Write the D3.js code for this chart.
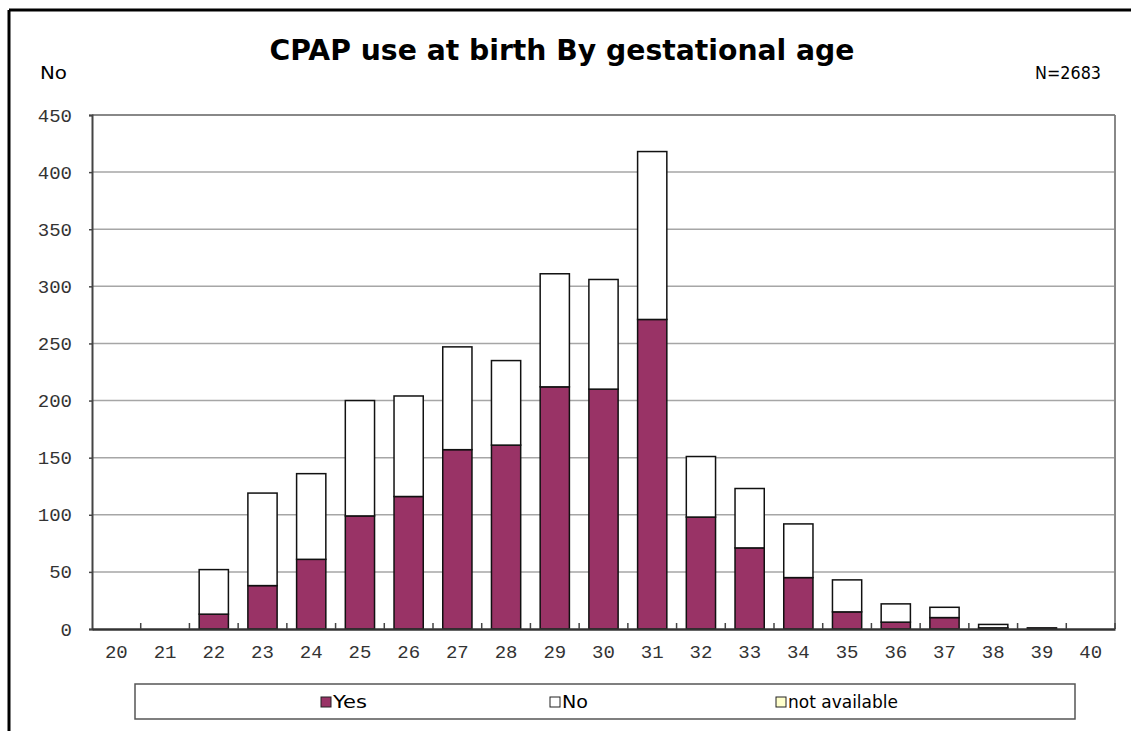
<!DOCTYPE html>
<html><head><meta charset="utf-8">
<script src="https://cdn.jsdelivr.net/npm/d3@7"></script>
<style>body{margin:0;background:#fff}svg{display:block}</style>
</head><body>
<svg id="c" width="1131" height="731"></svg>
<script>
const categories = ["20","21","22","23","24","25","26","27","28","29","30","31","32","33","34","35","36","37","38","39","40"];
const yesValues  = [0,0,13,38,61,99,116,157,161,212,210,271,98,71,45,15,6,10,1,1,0];
const noValues   = [0,0,39,81,75,101,88,90,74,99,96,147,53,52,47,28,16,9,3,0,0];
const naValues   = [0,0,0,0,0,0,0,0,0,0,0,0,0,0,0,0,0,0,0,0,0];
const yTicks = [0,50,100,150,200,250,300,350,400,450];
const seriesNames = ["Yes","No","not available"];
const seriesColors = ["#993366","#ffffff","#ffffcc"];

const svg = d3.select("#c");
const L = 92, R = 1115, T = 115, B = 629;

// outer frame
svg.append("line").attr("x1",9).attr("x2",1131).attr("y1",10).attr("y2",10).attr("stroke","#000").attr("stroke-width",3);
svg.append("line").attr("x1",9).attr("x2",9).attr("y1",10).attr("y2",731).attr("stroke","#000").attr("stroke-width",3);

const x = d3.scaleBand().domain(categories).range([L,R]).paddingInner(0.4).paddingOuter(0.2);
const xb = d3.scaleBand().domain(categories).range([L,R]);
const y = d3.scaleLinear().domain([0,450]).range([B,T]);

// gridlines
svg.append("g").selectAll("line").data(yTicks.filter(d=>d>0)).join("line")
  .attr("x1",L).attr("x2",R).attr("y1",d=>y(d)).attr("y2",d=>y(d))
  .attr("stroke","#a6a6a6").attr("stroke-width",1.5);
// right border
svg.append("line").attr("x1",R).attr("x2",R).attr("y1",T).attr("y2",B).attr("stroke","#888").attr("stroke-width",2);
svg.append("line").attr("x1",L).attr("x2",R).attr("y1",T).attr("y2",T).attr("stroke","#777").attr("stroke-width",1.5);

// stacked data
const rows = categories.map((c,i)=>({cat:c, Yes:yesValues[i], No:noValues[i], "not available":naValues[i]}));
const stack = d3.stack().keys(seriesNames)(rows);
svg.append("g").selectAll("g").data(stack).join("g")
  .attr("fill",(d,i)=>seriesColors[i])
  .selectAll("rect").data(d=>d.filter(p=>p[1]-p[0]>0)).join("rect")
  .attr("x",d=>x(d.data.cat)).attr("width",x.bandwidth())
  .attr("y",d=>y(d[1])).attr("height",d=>y(d[0])-y(d[1]))
  .attr("stroke","#111").attr("stroke-width",1.5);

// y axis
const yAxis = d3.axisLeft(y).tickValues(yTicks).tickSize(3).tickPadding(17);
const gy = svg.append("g").attr("transform",`translate(${L},0)`).call(yAxis);
gy.select(".domain").attr("stroke","#444").attr("stroke-width",2);
gy.selectAll(".tick line").attr("stroke","#444").attr("stroke-width",1.5);
gy.selectAll("text").attr("font-family","'Liberation Mono', monospace").attr("font-size",19).attr("fill","#333");

// x axis
const xAxis = d3.axisBottom(xb).tickSize(0).tickPadding(16);
const gx = svg.append("g").attr("transform",`translate(0,${B})`).call(xAxis);
gx.select(".domain").attr("stroke","#333").attr("stroke-width",2.5);
gx.selectAll("text").attr("font-family","'Liberation Mono', monospace").attr("font-size",19).attr("fill","#333");
// boundary ticks pointing up
svg.append("g").selectAll("line").data(categories.slice(1).concat(["end"])).join("line")
  .attr("x1",d=>d==="end"?R:xb(d)).attr("x2",d=>d==="end"?R:xb(d))
  .attr("y1",B).attr("y2",B-6).attr("stroke","#444").attr("stroke-width",1.5);

// title and labels
svg.append("text").attr("x",562).attr("y",60).attr("text-anchor","middle")
  .attr("font-family","'DejaVu Sans', sans-serif").attr("font-weight","bold").attr("font-size",28)
  .attr("textLength",585).attr("lengthAdjust","spacingAndGlyphs")
  .text("CPAP use at birth By gestational age");
svg.append("text").attr("x",40).attr("y",79).attr("font-family","'DejaVu Sans', sans-serif").attr("font-size",17)
  .attr("textLength",27).attr("lengthAdjust","spacingAndGlyphs").text("No");
svg.append("text").attr("x",1101).attr("y",79).attr("text-anchor","end").attr("font-family","'DejaVu Sans', sans-serif").attr("font-size",17)
  .attr("textLength",66).attr("lengthAdjust","spacingAndGlyphs").text("N=2683");

// legend
svg.append("rect").attr("x",135).attr("y",684).attr("width",940).attr("height",35)
  .attr("fill","#fff").attr("stroke","#555").attr("stroke-width",1.5);
const legX = [321, 550, 776];
const legW = [34, 26, 110];
const lg = svg.append("g").selectAll("g").data(seriesNames).join("g")
  .attr("transform",(d,i)=>`translate(${legX[i]},702)`);
lg.append("rect").attr("x",0).attr("y",-5).attr("width",10).attr("height",10)
  .attr("fill",(d,i)=>seriesColors[i]).attr("stroke","#222").attr("stroke-width",1);
lg.append("text").attr("x",12).attr("y",6).attr("font-family","'DejaVu Sans', sans-serif").attr("font-size",17)
  .attr("textLength",(d,i)=>legW[i]).attr("lengthAdjust","spacingAndGlyphs").text(d=>d);
</script>
</body></html>
